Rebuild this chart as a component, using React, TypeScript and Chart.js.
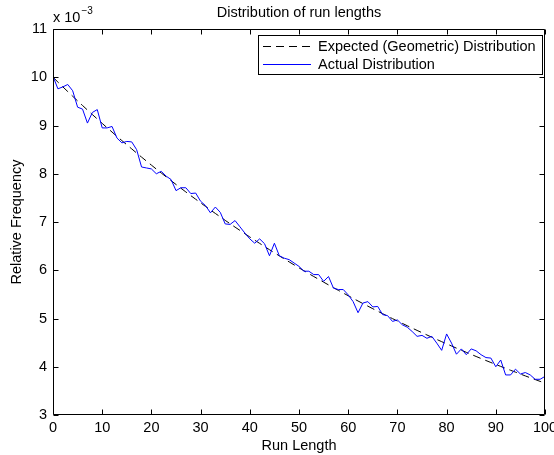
import { useEffect, useRef } from 'react';
import { Chart, registerables } from 'chart.js';
Chart.register(...registerables);

// Run lengths 0..100 (category index)
const runLengths: number[] = Array.from({ length: 101 }, (_, i) => i);

// Values in units of 1e-3
const expectedFreq: number[] = [
  10.0, 9.9, 9.801, 9.703, 9.606, 9.51, 9.415, 9.321, 9.227, 9.135,
  9.044, 8.953, 8.864, 8.775, 8.687, 8.601, 8.515, 8.429, 8.345, 8.262,
  8.179, 8.097, 8.016, 7.936, 7.857, 7.778, 7.7, 7.623, 7.547, 7.472,
  7.397, 7.323, 7.25, 7.177, 7.106, 7.034, 6.964, 6.894, 6.826, 6.757,
  6.69, 6.623, 6.557, 6.491, 6.426, 6.362, 6.298, 6.235, 6.173, 6.111,
  6.05, 5.99, 5.93, 5.87, 5.812, 5.754, 5.696, 5.639, 5.583, 5.527,
  5.472, 5.417, 5.363, 5.309, 5.256, 5.203, 5.151, 5.1, 5.049, 4.998,
  4.948, 4.899, 4.85, 4.801, 4.753, 4.706, 4.659, 4.612, 4.566, 4.52,
  4.475, 4.43, 4.386, 4.342, 4.299, 4.256, 4.213, 4.171, 4.129, 4.088,
  4.047, 4.007, 3.967, 3.927, 3.888, 3.849, 3.81, 3.772, 3.735, 3.697,
  3.66,
];

const actualFreq: number[] = [
  10.02, 9.76, 9.8, 9.85, 9.72, 9.38, 9.34, 9.05, 9.27, 9.33,
  8.95, 8.95, 8.98, 8.74, 8.64, 8.67, 8.66, 8.5, 8.14, 8.12,
  8.1, 8.0, 8.05, 7.95, 7.88, 7.65, 7.71, 7.71, 7.59, 7.6,
  7.43, 7.34, 7.19, 7.31, 7.2, 6.96, 6.95, 7.03, 6.9, 6.77,
  6.65, 6.56, 6.65, 6.55, 6.3, 6.56, 6.3, 6.25, 6.22, 6.15,
  6.08, 5.98, 5.98, 5.91, 5.91, 5.77, 5.87, 5.63, 5.6, 5.6,
  5.49, 5.35, 5.12, 5.32, 5.35, 5.24, 5.25, 5.08, 5.06, 4.94,
  4.97, 4.87, 4.82, 4.73, 4.63, 4.65, 4.59, 4.63, 4.49, 4.34,
  4.68, 4.49, 4.26, 4.37, 4.25, 4.37, 4.33, 4.25, 4.19, 4.18,
  4.0, 4.14, 3.83, 3.83, 3.95, 3.85, 3.88, 3.83, 3.74, 3.74,
  3.8,
];

const xTicks: number[] = [0, 10, 20, 30, 40, 50, 60, 70, 80, 90, 100];
const yTicks: number[] = [3, 4, 5, 6, 7, 8, 9, 10, 11];

const titleText = 'Distribution of run lengths';
const xLabel = 'Run Length';
const yLabel = 'Relative Frequency';
const expectedLabel = 'Expected (Geometric) Distribution';
const actualLabel = 'Actual Distribution';

const FONT = '"Liberation Sans", Arial, Helvetica, sans-serif';
const FS = 14.5;
const DASH = [8, 5];

const matlabPlugin = {
  id: 'matlabDecor',
  afterDraw(chart: any) {
    const { ctx, chartArea: a, scales } = chart;
    const xs = scales.x;
    const ys = scales.y;
    ctx.save();
    ctx.strokeStyle = '#000';
    ctx.lineWidth = 1;
    const L = Math.round(a.left) + 0.5;
    const R = Math.round(a.right) - 0.5;
    const T = Math.round(a.top) + 0.5;
    const B = Math.round(a.bottom) - 0.5;
    ctx.beginPath();
    ctx.rect(L, T, R - L, B - T);
    ctx.stroke();
    const tl = 5;
    ctx.beginPath();
    xTicks.forEach((v) => {
      const px = Math.round(xs.getPixelForValue(v)) + 0.5;
      ctx.moveTo(px, B);
      ctx.lineTo(px, B - tl);
      ctx.moveTo(px, T);
      ctx.lineTo(px, T + tl);
    });
    yTicks.forEach((v) => {
      const py = Math.round(ys.getPixelForValue(v)) + 0.5;
      ctx.moveTo(L, py);
      ctx.lineTo(L + tl, py);
      ctx.moveTo(R, py);
      ctx.lineTo(R - tl, py);
    });
    ctx.stroke();

    ctx.fillStyle = '#000';
    const cx = (a.left + a.right) / 2;
    const cy = (a.top + a.bottom) / 2;
    // Title
    ctx.font = `${FS}px ${FONT}`;
    ctx.textAlign = 'center';
    ctx.textBaseline = 'middle';
    ctx.fillText(titleText, cx, 13);
    // X label
    ctx.fillText(xLabel, cx, 446);
    // Y label
    ctx.save();
    ctx.translate(17, cy);
    ctx.rotate(-Math.PI / 2);
    ctx.fillText(yLabel, 0, 0);
    ctx.restore();
    // Exponent
    ctx.textAlign = 'left';
    ctx.textBaseline = 'alphabetic';
    ctx.font = `${FS}px ${FONT}`;
    const base = 'x 10';
    ctx.fillText(base, a.left, 22);
    const w = ctx.measureText(base).width;
    ctx.font = `10px ${FONT}`;
    ctx.fillText('\u22123', a.left + w + 1, 14);

    // Legend
    const lx = 258, ly = 35, lw = 284, lh = 39;
    ctx.fillStyle = '#fff';
    ctx.fillRect(lx, ly, lw, lh);
    ctx.strokeStyle = '#000';
    ctx.strokeRect(lx + 0.5, ly + 0.5, lw, lh);
    const entries = [
      { label: expectedLabel, color: '#000', dash: DASH, y: 46 },
      { label: actualLabel, color: '#0000ff', dash: [], y: 64 },
    ];
    entries.forEach((e) => {
      ctx.beginPath();
      ctx.setLineDash(e.dash);
      ctx.strokeStyle = e.color;
      ctx.moveTo(263, e.y + 0.5);
      ctx.lineTo(311, e.y + 0.5);
      ctx.stroke();
      ctx.setLineDash([]);
      ctx.fillStyle = '#000';
      ctx.font = `${FS}px ${FONT}`;
      ctx.textAlign = 'left';
      ctx.textBaseline = 'middle';
      ctx.fillText(e.label, 318, e.y + 1);
    });
    ctx.restore();
  },
};

export default function App() {
  const ref = useRef<HTMLCanvasElement | null>(null);
  useEffect(() => {
    document.body.style.margin = '0';
    const canvas = ref.current!;
    const chart = new Chart(canvas, {
      type: 'line',
      data: {
        datasets: [
          {
            label: expectedLabel,
            data: runLengths.map((r, i) => ({ x: r, y: expectedFreq[i] })),
            borderColor: '#000',
            borderWidth: 1,
            borderDash: DASH,
            pointRadius: 0,
            fill: false,
            tension: 0,
            order: 1,
          },
          {
            label: actualLabel,
            data: runLengths.map((r, i) => ({ x: r, y: actualFreq[i] })),
            borderColor: '#0000ff',
            borderWidth: 1,
            pointRadius: 0,
            fill: false,
            tension: 0,
            order: 0,
          },
        ],
      },
      options: {
        animation: false,
        responsive: false,
        devicePixelRatio: 1,
        layout: { padding: { left: 0, top: 29, right: 9, bottom: 0 } },
        plugins: {
          legend: { display: false },
          title: { display: false },
          tooltip: { enabled: false },
        },
        scales: {
          x: {
            type: 'linear',
            min: 0,
            max: 100,
            afterBuildTicks: (s: any) => {
              s.ticks = xTicks.map((v) => ({ value: v }));
            },
            afterFit: (s: any) => {
              s.height = 40;
              s.paddingLeft = 0;
              s.paddingRight = 0;
            },
            grid: { display: false, drawTicks: false },
            border: { display: false },
            ticks: {
              color: '#000',
              font: { family: FONT, size: FS },
              padding: 4,
              maxRotation: 0,
              autoSkip: false,
            },
          },
          y: {
            type: 'linear',
            min: 3,
            max: 11,
            afterBuildTicks: (s: any) => {
              s.ticks = yTicks.map((v) => ({ value: v }));
            },
            afterFit: (s: any) => {
              s.width = 53;
              s.paddingTop = 0;
              s.paddingBottom = 0;
            },
            grid: { display: false, drawTicks: false },
            border: { display: false },
            ticks: {
              color: '#000',
              font: { family: FONT, size: FS },
              padding: 6,
              autoSkip: false,
            },
          },
        },
      },
      plugins: [matlabPlugin],
    });
    return () => chart.destroy();
  }, []);
  return (
    <div style={{ width: 554, height: 455, position: 'relative' }}>
      <canvas ref={ref} width={554} height={455} style={{ display: 'block' }} />
    </div>
  );
}
